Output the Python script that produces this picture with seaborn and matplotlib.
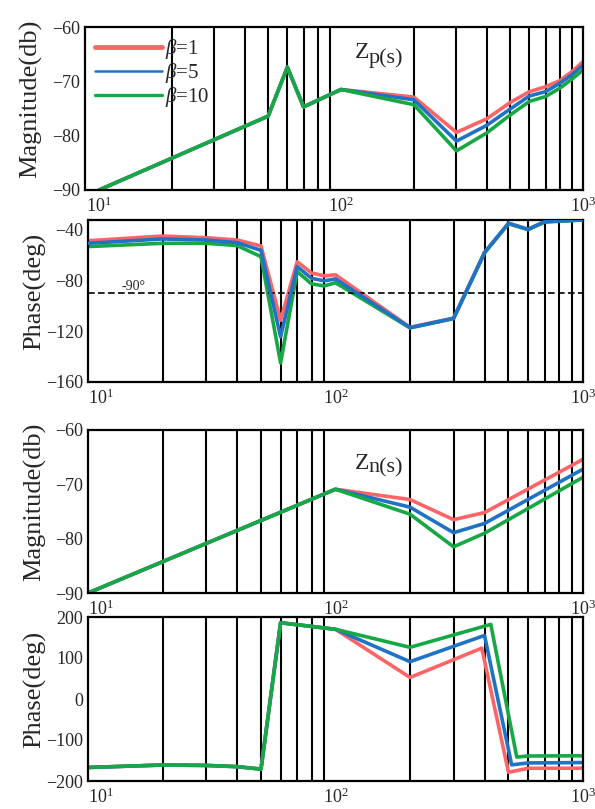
import numpy as np
import pandas as pd
import matplotlib
matplotlib.use("Agg")
import matplotlib.pyplot as plt
import seaborn as sns
from matplotlib.ticker import MultipleLocator, NullFormatter, FixedLocator

sns.set_style("white")
plt.rcParams['font.family'] = ['Liberation Serif', 'DejaVu Serif']
plt.rcParams['mathtext.fontset'] = 'custom'
plt.rcParams['mathtext.rm'] = 'Liberation Serif'
plt.rcParams['mathtext.it'] = 'Liberation Serif:italic'

betas = [r'$\beta$=1', r'$\beta$=5', r'$\beta$=10']
colors = ['#fd6466', '#1f72c4', '#17a845']

# Zp(s) magnitude
freq_zp_mag = [10, 50, 60, 70, 100, 200, 300, 400, 500, 600, 700, 800, 900, 1000]
zp_mag_b1 = [-90, -76.4, -67.4, -74.7, -71.5, -72.9, -79.4, -76.9, -73.9, -71.9, -71.0, -69.9, -68.2, -66.4]
zp_mag_b5 = [-90, -76.4, -67.4, -74.7, -71.5, -73.4, -81.0, -78.1, -75.1, -72.7, -71.9, -70.4, -68.8, -67.0]
zp_mag_b10 = [-90, -76.4, -67.4, -74.7, -71.5, -74.3, -82.8, -79.5, -76.2, -73.7, -72.8, -71.3, -69.6, -67.9]

# Zp(s) phase
freq_zp_ph = [10, 20, 30, 40, 50, 60, 70, 80, 90, 100, 200, 300, 400, 500, 600, 700, 800, 900, 1000]
zp_ph_b1 = [-49, -45.3, -46.6, -48.4, -53.1, -111.5, -65.5, -74.3, -76.6, -75.8, -117.0, -109.8, -58.3, -35.3, -40.0, -34.0, -33.5, -33.0, -32.5]
zp_ph_b5 = [-51, -47.6, -48.4, -50.5, -56.5, -124.5, -69.3, -78.5, -80.5, -79.0, -117.3, -110.0, -58.3, -35.3, -40.0, -34.0, -33.5, -33.0, -32.5]
zp_ph_b10 = [-53.6, -51.0, -51.0, -52.8, -61.5, -145.0, -73.2, -82.9, -84.5, -82.0, -117.5, -110.2, -58.6, -35.6, -40.3, -34.3, -33.7, -33.2, -32.7]

# Zn(s) magnitude
freq_zn_mag = [10, 100, 200, 300, 400, 1000]
zn_mag_b1 = [-90, -70.9, -72.8, -76.5, -75.2, -65.4]
zn_mag_b5 = [-90, -70.9, -74.2, -78.9, -77.2, -67.2]
zn_mag_b10 = [-90, -70.9, -75.5, -81.5, -79.0, -68.7]

# Zn(s) phase (the jump sits at a slightly different frequency per beta)
freq_zn_ph_b1 = [10, 20, 30, 40, 50, 60, 100, 200, 390, 500, 600, 1000]
zn_ph_b1 = [-167, -161, -162, -165, -171, 186, 170, 52.5, 124, -178.6, -169, -168.8]
freq_zn_ph_b5 = [10, 20, 30, 40, 50, 60, 100, 200, 400, 515, 600, 1000]
zn_ph_b5 = [-167, -161, -162, -165, -171, 186, 170, 91, 155, -160.6, -156, -155]
freq_zn_ph_b10 = [10, 20, 30, 40, 50, 60, 100, 200, 424, 540, 600, 1000]
zn_ph_b10 = [-167, -161, -162, -165, -171, 186, 170, 126, 182, -141.7, -139, -138.5]


def long_df(freqs, series):
    parts = []
    for f, v, b in zip(freqs, series, betas):
        parts.append(pd.DataFrame({'freq': f, 'value': v, 'beta': b}))
    return pd.concat(parts, ignore_index=True)


panels = [
    long_df([freq_zp_mag] * 3, [zp_mag_b1, zp_mag_b5, zp_mag_b10]),
    long_df([freq_zp_ph] * 3, [zp_ph_b1, zp_ph_b5, zp_ph_b10]),
    long_df([freq_zn_mag] * 3, [zn_mag_b1, zn_mag_b5, zn_mag_b10]),
    long_df([freq_zn_ph_b1, freq_zn_ph_b5, freq_zn_ph_b10], [zn_ph_b1, zn_ph_b5, zn_ph_b10]),
]

W, H = 595, 809
fig = plt.figure(figsize=(W / 100, H / 100), dpi=100)
# pixel boxes: left, right, top, bottom
boxes = [(85, 583, 27, 190), (88, 583, 220, 382), (88, 583, 430, 593), (88, 583, 617, 781)]
ylims = [(-90, -60), (-160, -32.7), (-90, -60), (-200, 200)]
yticks = [[-90, -80, -70, -60], [-160, -120, -80, -40], [-90, -80, -70, -60], [-200, -100, 0, 100, 200]]
ylabels = ['Magnitude(db)', 'Phase(deg)', 'Magnitude(db)', 'Phase(deg)']
xlims = [(8.75, 1000), (10, 1000), (10, 1000), (10, 1000)]
grid_f = [20, 30, 40, 50, 60, 70, 80, 90, 100, 200, 300, 400, 500, 600, 700, 800, 900]

axes = []
for i, (l, r, t, b) in enumerate(boxes):
    ax = fig.add_axes([l / W, 1 - b / H, (r - l) / W, (b - t) / H])
    sns.lineplot(data=panels[i], x='freq', y='value', hue='beta', palette=colors,
                 linewidth=2.6, ax=ax, legend=(i == 0))
    ax.set_xscale('log')
    ax.set_xticks([10, 100, 1000])
    ax.set_xlim(*xlims[i])
    ax.set_ylim(*ylims[i])
    ax.set_yticks(yticks[i])
    ax.xaxis.set_minor_locator(FixedLocator(grid_f))
    ax.xaxis.set_minor_formatter(NullFormatter())
    ax.grid(False)
    ax.set_axisbelow(True)
    ax.grid(True, which='minor', axis='x', color='black', lw=1.5)
    ax.set_xlabel('')
    ax.set_ylabel(ylabels[i], fontsize=19)
    ax.yaxis.set_label_coords(-0.085, 0.56)
    ax.tick_params(axis='both', which='both', direction='in', labelsize=13,
                   color='black', length=4, width=1.2)
    ax.tick_params(axis='x', which='both', length=0, pad=5)
    for s in ax.spines.values():
        s.set_color('black')
        s.set_linewidth(1.6)
    if i > 0:
        # first decade label sits to the right of the corner
        ax.xaxis.get_major_ticks()[0].label1.set_horizontalalignment('left')
    axes.append(ax)

# legend on the first panel
ax1 = axes[0]
leg = ax1.get_legend()
handles = leg.legend_handles
labels = [t.get_text() for t in leg.get_texts()]
leg.remove()
new_leg = ax1.legend(handles, labels, loc='upper left', frameon=False, fontsize=15,
                     handlelength=3.2, handletextpad=0.15, labelspacing=0.0,
                     borderpad=0.45, borderaxespad=0.05)
for h, w in zip(new_leg.legend_handles, [3.5, 1.8, 2.4]):
    h.set_linewidth(w)

# blue on top in the Zp phase panel
axes[1].lines[1].set_zorder(3)
axes[1].yaxis.set_minor_locator(MultipleLocator(20))
axes[1].axhline(-90, color='black', ls='--', lw=1.2, dashes=(4, 2), zorder=2.5)
axes[1].text(13.6, -90, '-90°', fontsize=10, va='bottom', ha='left')

# transfer function names
for ax, sub, (x0, y0), dy in [(axes[0], 'p(s)', (0.542, 0.81), -3.8),
                              (axes[2], 'n(s)', (0.539, 0.758), -2.2)]:
    ax.text(x0, y0, 'Z', transform=ax.transAxes, fontsize=17, va='baseline', ha='left')
    ax.annotate(sub, xy=(x0, y0), xycoords='axes fraction', xytext=(10, dy),
                textcoords='offset points', fontsize=16, va='baseline', ha='left')

plt.savefig('out.png', dpi=100)
